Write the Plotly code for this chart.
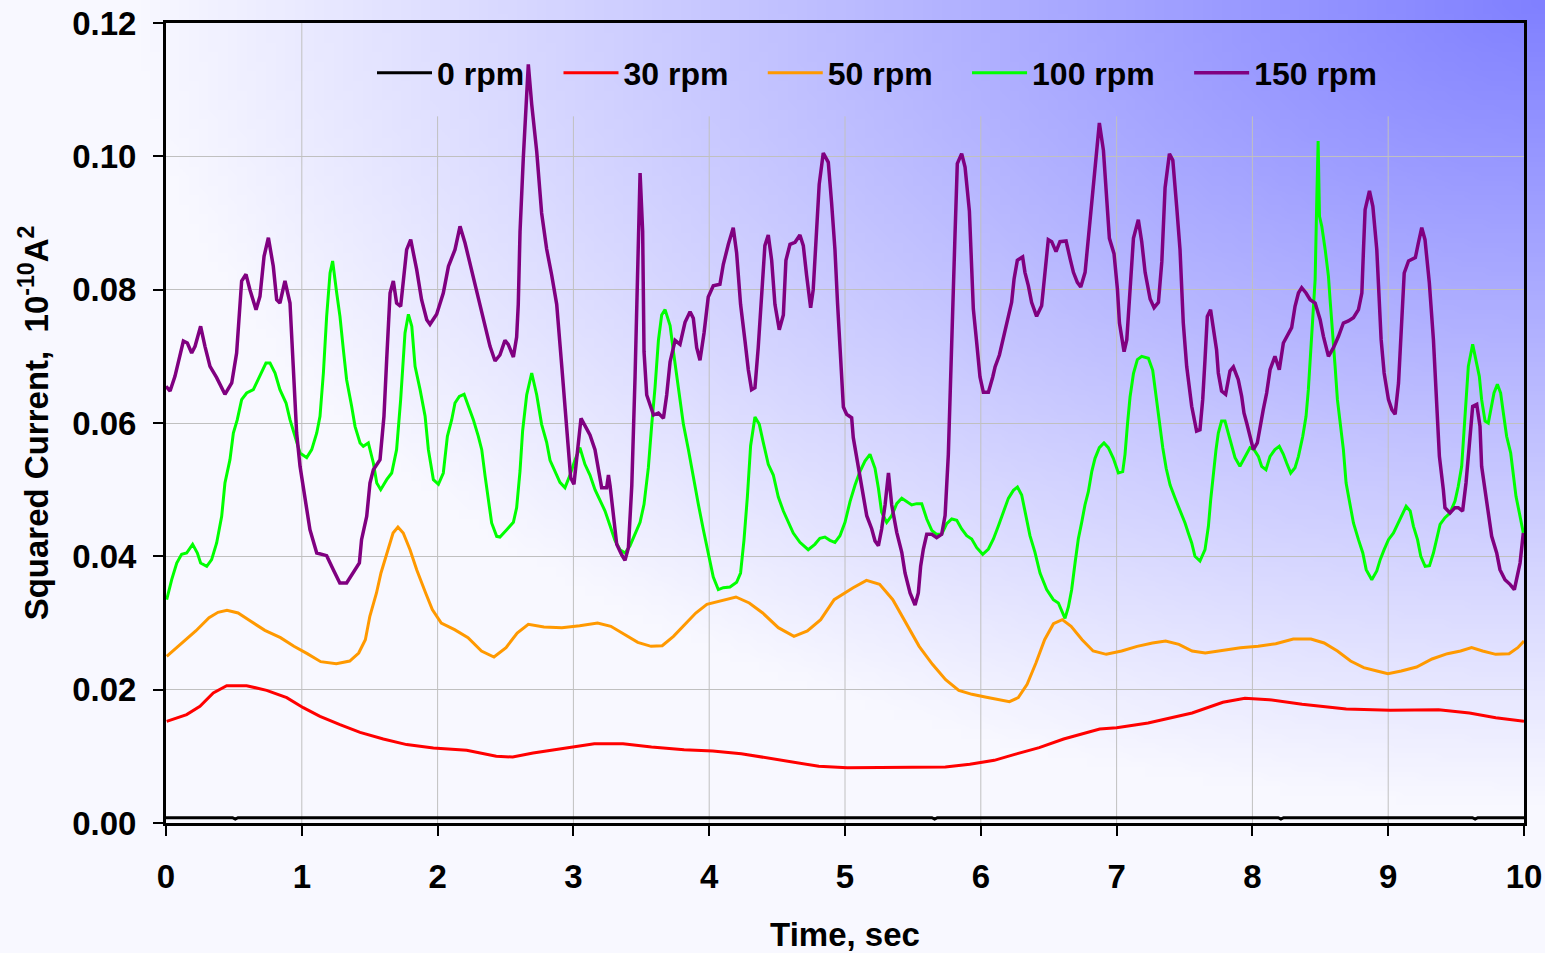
import base64, struct, zlib
import numpy as np
import plotly.graph_objects as go

# ---------------- data ----------------
t_0rpm = [0.0, 0.49, 0.51, 0.53, 5.64, 5.66, 5.68, 8.19, 8.21, 8.23, 9.62, 9.64, 9.66, 10.0]
v_0rpm = [0.0008, 0.0008, 0.0006, 0.0008, 0.0008, 0.0006, 0.0008, 0.0008, 0.0006, 0.0008,
          0.0008, 0.0006, 0.0008, 0.0008]

t_30rpm = [0.005, 0.152, 0.25, 0.348, 0.447, 0.594, 0.741, 0.889, 1.011, 1.134, 1.281, 1.429, 1.6,
           1.772, 1.969, 2.214, 2.432, 2.553, 2.703, 2.853, 3.004, 3.154, 3.365, 3.575, 3.815, 4.026,
           4.236, 4.416, 4.627, 4.807, 5.017, 5.258, 5.499, 5.739, 5.919, 6.099, 6.25, 6.43, 6.61,
           6.791, 6.876, 7.0, 7.232, 7.556, 7.783, 7.945, 8.123, 8.366, 8.691, 9.015, 9.371, 9.598,
           9.792, 10.0]
v_30rpm = [0.01525, 0.01626, 0.0175, 0.0195, 0.0206, 0.0206, 0.0199, 0.0188, 0.0173, 0.016, 0.01476,
           0.0136, 0.0126, 0.01176, 0.01126, 0.0109, 0.0100, 0.0099, 0.0105, 0.011, 0.0115, 0.0119,
           0.0119, 0.0114, 0.011, 0.0108, 0.0104, 0.0098, 0.0091, 0.0085, 0.0083, 0.0083, 0.0084,
           0.0084, 0.0088, 0.0094, 0.0103, 0.0113, 0.0126, 0.0137, 0.0141, 0.0143, 0.015, 0.0165,
           0.0181, 0.0187, 0.0185, 0.0178, 0.0171, 0.0169, 0.017, 0.0165, 0.0158, 0.01525]

t_50rpm = [0.005, 0.12, 0.219, 0.317, 0.383, 0.449, 0.531, 0.613, 0.728, 0.843, 0.942, 1.04, 1.139,
           1.254, 1.353, 1.419, 1.468, 1.501, 1.55, 1.583, 1.633, 1.672, 1.708, 1.747, 1.797, 1.846,
           1.912, 1.961, 2.027, 2.125, 2.224, 2.323, 2.415, 2.504, 2.586, 2.668, 2.783, 2.915, 3.046,
           3.178, 3.276, 3.375, 3.474, 3.572, 3.654, 3.737, 3.819, 3.901, 3.983, 4.082, 4.197, 4.295,
           4.394, 4.509, 4.624, 4.723, 4.821, 4.92, 5.018, 5.06, 5.158, 5.255, 5.352, 5.449, 5.546,
           5.644, 5.741, 5.838, 5.935, 6.032, 6.13, 6.211, 6.276, 6.341, 6.406, 6.47, 6.535, 6.6,
           6.665, 6.746, 6.827, 6.924, 7.037, 7.151, 7.264, 7.361, 7.459, 7.556, 7.653, 7.783, 7.912,
           8.042, 8.172, 8.301, 8.431, 8.528, 8.626, 8.723, 8.82, 8.917, 8.998, 9.096, 9.209, 9.323,
           9.436, 9.533, 9.614, 9.695, 9.792, 9.89, 9.954, 10.0]
v_50rpm = [0.025, 0.027, 0.0288, 0.0308, 0.0316, 0.0319, 0.0315, 0.0304, 0.0289, 0.0278, 0.0265,
           0.0254, 0.0242, 0.0239, 0.0243, 0.0255, 0.0275, 0.031, 0.0345, 0.0375, 0.041, 0.0435,
           0.0444, 0.0435, 0.041, 0.038, 0.0345, 0.032, 0.03, 0.029, 0.0278, 0.0258, 0.0249, 0.0263,
           0.0285, 0.0298, 0.0294, 0.0293, 0.0296, 0.03, 0.0295, 0.0283, 0.0271, 0.0265, 0.0266,
           0.028, 0.0298, 0.0315, 0.0328, 0.0333, 0.0339, 0.033, 0.0315, 0.0293, 0.028, 0.0288,
           0.0305, 0.0335, 0.0348, 0.0353, 0.0364, 0.0358, 0.0335, 0.03, 0.0265, 0.0238, 0.0215,
           0.0199, 0.0193, 0.0189, 0.0185, 0.0182, 0.0188, 0.0208, 0.024, 0.0275, 0.0299, 0.0305,
           0.0295, 0.0275, 0.0258, 0.0253, 0.0258, 0.0265, 0.027, 0.0273, 0.0268, 0.0258, 0.0255,
           0.0259, 0.0263, 0.0265, 0.0269, 0.0276, 0.0276, 0.027, 0.0258, 0.0243, 0.0233, 0.0228,
           0.0224, 0.0228, 0.0234, 0.0246, 0.0254, 0.0258, 0.0263, 0.0258, 0.0253, 0.0254, 0.0263,
           0.0273]

t_100rpm = [0.005, 0.042, 0.079, 0.115, 0.152, 0.196, 0.231, 0.255, 0.3, 0.336, 0.373, 0.41, 0.434,
            0.471, 0.496, 0.525, 0.557, 0.594, 0.643, 0.692, 0.736, 0.766, 0.803, 0.839, 0.884, 0.913,
            0.95, 0.987, 1.036, 1.073, 1.11, 1.134, 1.159, 1.183, 1.208, 1.227, 1.257, 1.281, 1.306,
            1.33, 1.367, 1.392, 1.429, 1.453, 1.49, 1.527, 1.552, 1.581, 1.625, 1.662, 1.698, 1.728,
            1.76, 1.785, 1.81, 1.834, 1.871, 1.908, 1.932, 1.969, 2.006, 2.042, 2.072, 2.104, 2.128,
            2.16, 2.195, 2.227, 2.263, 2.3, 2.325, 2.35, 2.374, 2.398, 2.435,
            2.459, 2.509, 2.558, 2.582, 2.607, 2.626, 2.656, 2.693, 2.73, 2.766, 2.803, 2.828, 2.864,
            2.901, 2.938, 2.975, 3.011, 3.048, 3.085, 3.122, 3.159, 3.196, 3.233, 3.27, 3.306, 3.343,
            3.38, 3.417, 3.454, 3.491, 3.52, 3.552, 3.577, 3.601, 3.626, 3.65, 3.675, 3.712, 3.736,
            3.761, 3.785, 3.81, 3.847, 3.883, 3.92, 3.957, 3.994, 4.03, 4.067, 4.104, 4.153, 4.202,
            4.231, 4.256, 4.281, 4.305, 4.337, 4.369, 4.398, 4.435, 4.472, 4.509, 4.546, 4.582, 4.619,
            4.668, 4.729, 4.778, 4.815, 4.852, 4.889, 4.926,
            4.963, 5.0, 5.037, 5.074, 5.11, 5.147, 5.184, 5.221, 5.246, 5.27, 5.307, 5.344, 5.381,
            5.418, 5.455, 5.491, 5.528, 5.565, 5.602, 5.639, 5.675, 5.712, 5.749, 5.786, 5.823, 5.859,
            5.896, 5.933, 5.97, 6.014, 6.056, 6.093, 6.13, 6.166, 6.203, 6.24, 6.27, 6.301, 6.333,
            6.362, 6.399, 6.436, 6.485, 6.534, 6.571, 6.595, 6.62, 6.645, 6.669, 6.694, 6.718, 6.743,
            6.767, 6.792, 6.817, 6.841, 6.873, 6.907, 6.939, 6.976, 7.013, 7.045, 7.062, 7.08, 7.099,
            7.124, 7.153, 7.185, 7.234, 7.266, 7.291, 7.315, 7.34, 7.365, 7.394, 7.431,
            7.467, 7.504, 7.528, 7.553, 7.577, 7.614, 7.651, 7.676, 7.693, 7.712, 7.732, 7.749, 7.773,
            7.798, 7.822, 7.847, 7.872, 7.908, 7.945, 7.982, 8.012, 8.044, 8.068, 8.1, 8.13, 8.166,
            8.198, 8.228, 8.252, 8.282, 8.314, 8.339, 8.371, 8.395, 8.412, 8.429, 8.449, 8.462, 8.474,
            8.484, 8.494, 8.511, 8.536, 8.56, 8.572, 8.592, 8.609, 8.626, 8.646, 8.67, 8.69, 8.719,
            8.744, 8.781, 8.813, 8.838, 8.879, 8.916, 8.941, 8.97, 9.002, 9.039, 9.076, 9.108, 9.132,
            9.162, 9.186, 9.216, 9.24, 9.272, 9.304, 9.333, 9.362, 9.382, 9.418, 9.455, 9.492, 9.516,
            9.541, 9.558, 9.573, 9.59, 9.622, 9.647, 9.671, 9.688, 9.713, 9.737, 9.762, 9.779, 9.804,
            9.828, 9.848, 9.872, 9.902, 9.921, 9.941, 9.966, 9.995]
v_100rpm = [0.0335, 0.0365, 0.039, 0.0403, 0.0405, 0.0418, 0.0405, 0.039, 0.0385, 0.0395, 0.042,
            0.046, 0.051, 0.0545, 0.0585, 0.0605, 0.0635, 0.0645, 0.065, 0.067, 0.069, 0.069, 0.0675,
            0.065, 0.063, 0.0605, 0.058, 0.0555, 0.0548, 0.056, 0.0585, 0.061, 0.0675, 0.076, 0.0825,
            0.0843, 0.0795, 0.076, 0.071, 0.0665, 0.0625, 0.0595, 0.057, 0.0565, 0.057, 0.054, 0.051,
            0.05, 0.0515, 0.0525, 0.056, 0.0635, 0.0735, 0.0763, 0.0745, 0.0685, 0.065, 0.061, 0.056,
            0.0515, 0.0508, 0.0525, 0.058, 0.0605, 0.063, 0.064, 0.0643, 0.0625, 0.0605, 0.058, 0.056,
            0.052, 0.0485, 0.045, 0.043,
            0.0429, 0.044, 0.0451, 0.0473, 0.0528, 0.0588, 0.0642, 0.0675, 0.0642, 0.0598, 0.0571,
            0.0544, 0.0528, 0.0511, 0.0503, 0.0522, 0.0544, 0.0563, 0.0538, 0.0522, 0.05, 0.0484,
            0.0468, 0.0446, 0.0424, 0.041, 0.0405, 0.0416, 0.0435, 0.0451, 0.0478, 0.0533, 0.0598,
            0.0653, 0.0724, 0.0762, 0.077, 0.0746, 0.0708, 0.0669, 0.0637, 0.0598, 0.056, 0.0517,
            0.0478, 0.044, 0.0402, 0.0369, 0.035, 0.0353, 0.0354, 0.0361, 0.0375, 0.0424, 0.0489,
            0.0566, 0.0609, 0.0598, 0.0571, 0.0538, 0.0522, 0.0489, 0.0468, 0.0451, 0.0435, 0.0421,
            0.041, 0.0418, 0.0427, 0.0429, 0.0424, 0.0421,
            0.0431, 0.0451, 0.0482, 0.0507, 0.0527, 0.0543, 0.0553, 0.0532, 0.0502, 0.0466, 0.0451,
            0.0461, 0.0479, 0.0487, 0.0482, 0.0477, 0.0479, 0.0479, 0.0456, 0.0439, 0.0433, 0.0433,
            0.0449, 0.0456, 0.0454, 0.0441, 0.0431, 0.0426, 0.0413, 0.0403, 0.0411, 0.0426, 0.0446,
            0.0466, 0.0487, 0.0499, 0.0504, 0.0492, 0.0461, 0.0431, 0.0406, 0.0375, 0.035, 0.0335,
            0.033, 0.0319, 0.0307, 0.0324, 0.035, 0.039, 0.0426, 0.0451, 0.0477, 0.0497, 0.0527,
            0.0547, 0.0563, 0.057, 0.0563, 0.0547, 0.0525, 0.0527, 0.0553, 0.0598, 0.0639, 0.0674,
            0.0695, 0.07, 0.0697, 0.0679, 0.0639, 0.0598, 0.0563, 0.0532, 0.0507, 0.0487,
            0.047, 0.045, 0.0435, 0.042, 0.04, 0.0393, 0.041, 0.0445, 0.0485, 0.0525, 0.056, 0.0585,
            0.0603, 0.0603, 0.0585, 0.0565, 0.0548, 0.0535, 0.055, 0.0563, 0.056, 0.055, 0.0535, 0.053,
            0.055, 0.056, 0.0565, 0.0553, 0.054, 0.0525, 0.0533, 0.055, 0.058, 0.061, 0.065, 0.0705,
            0.0775, 0.0815, 0.0935, 0.1023, 0.091, 0.0895, 0.086, 0.082, 0.0785, 0.0735, 0.0685,
            0.0635, 0.06, 0.056, 0.051, 0.0475, 0.045, 0.0425, 0.0405, 0.038, 0.0365, 0.0378, 0.0395,
            0.041, 0.0425, 0.0435, 0.045, 0.0465, 0.0475, 0.0468, 0.0445, 0.0425, 0.04, 0.0385,
            0.0386, 0.0405, 0.043, 0.0448, 0.0458, 0.0465, 0.0483, 0.0505, 0.0535, 0.0585, 0.0635,
            0.0685, 0.0718, 0.0695, 0.067, 0.0635, 0.0603, 0.06, 0.0625, 0.0645, 0.0658, 0.0645,
            0.0615, 0.058, 0.0555, 0.0525, 0.049, 0.0465, 0.0435]

t_150rpm = [0.0, 0.03, 0.066, 0.09, 0.128, 0.157, 0.189, 0.214, 0.255, 0.287, 0.324, 0.373, 0.434,
            0.484, 0.52, 0.557, 0.589, 0.618, 0.663, 0.692, 0.722, 0.754, 0.79, 0.815, 0.839, 0.876,
            0.913, 0.937, 0.962, 0.987, 1.023, 1.06, 1.11, 1.183, 1.232, 1.28, 1.33, 1.38, 1.424,
            1.44, 1.478, 1.502, 1.527, 1.576, 1.605, 1.625, 1.65, 1.674, 1.698, 1.728, 1.772, 1.802,
            1.846, 1.882, 1.92, 1.944, 1.993, 2.042, 2.08, 2.128, 2.165, 2.202, 2.25, 2.3, 2.35,
            2.386, 2.423,
            2.459, 2.496, 2.52, 2.558, 2.582, 2.594, 2.607, 2.631, 2.651, 2.668, 2.693, 2.73, 2.766,
            2.803, 2.84, 2.877, 2.914, 2.95, 2.98, 3.004, 3.03, 3.056, 3.093, 3.122, 3.159, 3.196,
            3.208, 3.245, 3.258, 3.27, 3.295, 3.319, 3.356, 3.38, 3.405, 3.43, 3.454, 3.471, 3.491,
            3.51, 3.52, 3.54, 3.577, 3.59, 3.626, 3.663, 3.687, 3.712, 3.749, 3.785, 3.822, 3.859,
            3.883, 3.908, 3.932, 3.962, 3.993, 4.03, 4.079, 4.104, 4.141, 4.177, 4.202, 4.231, 4.263,
            4.288, 4.312, 4.337, 4.361, 4.386, 4.41, 4.435, 4.46, 4.484, 4.516, 4.546, 4.565, 4.595,
            4.632, 4.668, 4.693, 4.717, 4.747, 4.766, 4.791, 4.81, 4.84, 4.877, 4.901, 4.926, 4.945,
            4.963, 4.988, 5.012, 5.049, 5.061, 5.086, 5.123, 5.16, 5.197, 5.221, 5.246, 5.27, 5.295,
            5.32, 5.344, 5.381, 5.418, 5.442, 5.479, 5.516, 5.54, 5.557, 5.577, 5.602, 5.639, 5.675,
            5.712, 5.737, 5.761, 5.778, 5.798, 5.81, 5.827, 5.859, 5.884, 5.916, 5.933, 5.945, 5.97,
            5.994, 6.019, 6.056, 6.088, 6.105, 6.137, 6.171, 6.203, 6.227, 6.245, 6.269, 6.308, 6.325,
            6.35, 6.374, 6.411, 6.448, 6.473, 6.497, 6.522, 6.554, 6.583, 6.628, 6.657, 6.682, 6.711,
            6.736, 6.768, 6.793, 6.824, 6.849, 6.873, 6.903, 6.927, 6.947, 6.981, 7.006, 7.021, 7.055,
            7.075, 7.104, 7.124, 7.16, 7.185, 7.21, 7.247, 7.276, 7.308, 7.333, 7.357, 7.389, 7.414,
            7.443,
            7.467, 7.491, 7.516, 7.553, 7.589, 7.614, 7.634, 7.651, 7.668, 7.692, 7.717, 7.736, 7.749,
            7.773, 7.803, 7.835, 7.86, 7.896, 7.921, 7.938, 7.958, 7.982, 8.007, 8.036, 8.056, 8.08,
            8.105, 8.13, 8.166, 8.198, 8.228, 8.265, 8.289, 8.314, 8.339, 8.363, 8.395, 8.425, 8.462,
            8.499, 8.523, 8.56, 8.597, 8.634, 8.67, 8.707, 8.744, 8.781, 8.806, 8.818, 8.83, 8.862,
            8.887, 8.916, 8.936, 8.948, 8.97, 9.002, 9.027, 9.051, 9.076, 9.093, 9.118, 9.15, 9.2,
            9.222, 9.247, 9.271, 9.303, 9.333, 9.357, 9.377, 9.406, 9.418, 9.455, 9.492, 9.516, 9.548,
            9.573, 9.598, 9.622, 9.652, 9.676, 9.688, 9.713, 9.737, 9.762, 9.799, 9.823, 9.86, 9.897,
            9.929, 9.946, 9.971, 9.995]
v_150rpm = [0.0655, 0.0648, 0.067, 0.069, 0.0723, 0.072, 0.0705, 0.0715, 0.0745, 0.0715, 0.0685,
            0.0668, 0.0643, 0.066, 0.0705, 0.0813, 0.0823, 0.080, 0.077, 0.079, 0.085, 0.0878, 0.0835,
            0.0785, 0.078, 0.0813, 0.078, 0.0685, 0.0585, 0.0535, 0.0485, 0.044, 0.0405, 0.0401,
            0.038, 0.036, 0.036, 0.0375, 0.039, 0.0425, 0.046, 0.051, 0.053, 0.0545, 0.061, 0.0695,
            0.0795, 0.0813, 0.078, 0.0775, 0.086, 0.0875, 0.083, 0.0785, 0.0755, 0.0748, 0.0763,
            0.0795, 0.0835, 0.086, 0.0895, 0.087, 0.083, 0.079, 0.075, 0.0715, 0.0693,
            0.0702, 0.0724, 0.0718, 0.0699, 0.0729, 0.0778, 0.0887, 0.0997, 0.1078, 0.1138, 0.1078,
            0.1007, 0.0915, 0.0861, 0.0822, 0.0778, 0.0686, 0.0588, 0.0518, 0.0508, 0.056, 0.0607,
            0.0593, 0.0582, 0.056, 0.0522, 0.0503, 0.0503, 0.0522, 0.0506, 0.0457, 0.0418, 0.0402,
            0.0394, 0.0413, 0.0506, 0.0669, 0.0833, 0.0975, 0.0887, 0.0707, 0.0642, 0.062, 0.0612,
            0.0615, 0.0607, 0.0642, 0.0692, 0.0724, 0.0718, 0.0751, 0.0767, 0.0757, 0.0713, 0.0694,
            0.0735, 0.0789, 0.0806, 0.0808, 0.0838, 0.0868, 0.0893, 0.0855, 0.0778, 0.0724, 0.068,
            0.065, 0.0653, 0.0713, 0.0789, 0.0866, 0.0882, 0.0844, 0.0778, 0.074, 0.0762, 0.0844,
            0.0868, 0.0871, 0.0882, 0.0866, 0.0822, 0.0773, 0.08, 0.0887, 0.0958, 0.1005, 0.0991,
            0.0931, 0.086, 0.078,
            0.0715, 0.0624, 0.0613, 0.0608, 0.0578, 0.0547, 0.0502, 0.0461, 0.0441, 0.0423, 0.0416,
            0.0441, 0.0477, 0.0525, 0.0477, 0.0436, 0.0406, 0.0375, 0.0345, 0.0327, 0.0345, 0.0385,
            0.0411, 0.0433, 0.0433, 0.0428, 0.0433, 0.0461, 0.0553, 0.0679, 0.0781, 0.0882, 0.0989,
            0.1004, 0.0984, 0.0918, 0.0832, 0.0771, 0.072, 0.0669, 0.0646, 0.0646, 0.0669, 0.0684,
            0.0702, 0.0735, 0.076, 0.0781, 0.0816, 0.0844, 0.0849, 0.0826, 0.0806, 0.0781, 0.076,
            0.0776, 0.0821, 0.0875, 0.0872, 0.0857, 0.0872, 0.0873, 0.0847, 0.0826, 0.0811, 0.0804,
            0.0826, 0.0882, 0.0943, 0.1009, 0.105, 0.1009, 0.0943, 0.0877, 0.0854, 0.0801, 0.075,
            0.0707, 0.0725, 0.0806, 0.0877, 0.0905, 0.0872, 0.0826, 0.0786, 0.0773, 0.0781, 0.0842,
            0.0953, 0.1004, 0.0994, 0.0923,
            0.086, 0.075, 0.0685, 0.0625, 0.0588, 0.059, 0.0635, 0.0695, 0.076, 0.077, 0.0735, 0.071,
            0.0675, 0.0648, 0.0643, 0.0678, 0.0684, 0.0665, 0.064, 0.0615, 0.06, 0.058, 0.056, 0.057,
            0.0595, 0.062, 0.0645, 0.068, 0.07, 0.068, 0.072, 0.0735, 0.0743, 0.0775, 0.0795, 0.0803,
            0.0795, 0.0785, 0.078, 0.0755, 0.073, 0.07, 0.0713, 0.073, 0.075, 0.0753, 0.0758, 0.077,
            0.0795, 0.086, 0.092, 0.0948, 0.0925, 0.086, 0.0785, 0.0725, 0.0675, 0.0635, 0.062,
            0.0613, 0.066, 0.0735, 0.0825, 0.0843, 0.0848, 0.087, 0.0893, 0.0875, 0.081, 0.0725,
            0.0635, 0.055, 0.05, 0.0473, 0.0465, 0.0473, 0.0473, 0.0468, 0.051, 0.057, 0.0625, 0.0628,
            0.0595, 0.0535, 0.05, 0.046, 0.043, 0.0405, 0.038, 0.0365, 0.0358, 0.035, 0.0365, 0.039,
            0.0435]

series_names = ["0 rpm", "30 rpm", "50 rpm", "100 rpm", "150 rpm"]
series_t = [t_0rpm, t_30rpm, t_50rpm, t_100rpm, t_150rpm]
series_v = [v_0rpm, v_30rpm, v_50rpm, v_100rpm, v_150rpm]
series_colors = ["#000000", "#ff0000", "#ff9900", "#00ff00", "#800080"]
series_widths = [3, 3, 3, 3, 3.5]

x_ticks = list(range(0, 11))
y_ticks = [0.00, 0.02, 0.04, 0.06, 0.08, 0.10, 0.12]

# ---------------- background gradient image ----------------
W, H = 1545, 953
gw, gh = 160, 100
xs = (np.arange(gw) + 0.5) / gw * W
ys = (np.arange(gh) + 0.5) / gh * H
X, Y = np.meshgrid(xs, ys)
d = np.sqrt(((W - X) / 1400.0) ** 2 + (Y / 800.0) ** 2)
a = np.clip(1.0 - d, 0, 1)
base = np.array([248, 248, 255], float)
blue = np.array([128, 128, 255], float)
img = (base[None, None, :] * (1 - a[..., None]) + blue[None, None, :] * a[..., None]).astype(np.uint8)


def png_bytes(arr):
    h, w, _ = arr.shape
    raw = b"".join(b"\x00" + arr[i].tobytes() for i in range(h))
    def chunk(tag, data):
        c = struct.pack(">I", len(data)) + tag + data
        return c + struct.pack(">I", zlib.crc32(tag + data) & 0xffffffff)
    return (b"\x89PNG\r\n\x1a\n" + chunk(b"IHDR", struct.pack(">IIBBBBB", w, h, 8, 2, 0, 0, 0))
            + chunk(b"IDAT", zlib.compress(raw, 9)) + chunk(b"IEND", b""))


bg_uri = "data:image/png;base64," + base64.b64encode(png_bytes(img)).decode()

# ---------------- figure ----------------
ML, MR, MT, MB = 166, 21, 23, 130
PW, PH = W - ML - MR, H - MT - MB

FONT = "Liberation Sans, Arial, sans-serif"
PAD = "\u00a0" * 3 + "\u200a"   # extra spacing between legend entries

fig = go.Figure()
for name, tt, vv, col, lw in zip(series_names, series_t, series_v, series_colors, series_widths):
    fig.add_trace(go.Scatter(x=tt, y=vv, mode="lines", name=name + PAD,
                             line=dict(color=col, width=lw)))

# vertical grid lines (hidden behind the legend box near the top, as in the reference)
legend_bottom = 0.106
for xv in x_ticks[1:-1]:
    top = 0.12 if xv == 1 else legend_bottom
    fig.add_shape(type="line", xref="x", yref="y", x0=xv, x1=xv, y0=0, y1=top,
                  line=dict(color="#c0c0c0", width=1), layer="below")

fig.add_layout_image(dict(source=bg_uri, xref="paper", yref="paper",
                          x=-ML / PW, y=1 + MT / PH, sizex=W / PW, sizey=H / PH,
                          sizing="stretch", xanchor="left", yanchor="top", layer="below"))

fig.update_layout(
    width=W, height=H,
    margin=dict(l=ML, r=MR, t=MT, b=MB, autoexpand=False),
    paper_bgcolor="white",
    plot_bgcolor="rgba(0,0,0,0)",
    font=dict(family=FONT, color="black", size=30),
    showlegend=True,
    legend=dict(orientation="h", x=(372 - ML) / PW, y=(823 - 73) / PH,
                xanchor="left", yanchor="middle",
                bgcolor="rgba(0,0,0,0)", borderwidth=0,
                font=dict(family=FONT, size=32, color="black", weight="bold"),
                itemwidth=55, tracegroupgap=0),
    xaxis=dict(range=[0, 10], tickvals=x_ticks, ticktext=[str(v) for v in x_ticks],
               showgrid=False, zeroline=False, automargin=False,
               showline=True, linecolor="black", linewidth=3, mirror=True,
               ticks="outside", ticklen=10, tickwidth=2, tickcolor="black",
               ticklabelstandoff=12,
               tickfont=dict(family=FONT, size=33, color="black", weight="bold"),
               title=dict(text="Time, sec", standoff=30,
                          font=dict(family=FONT, size=33, color="black", weight="bold"))),
    yaxis=dict(range=[0, 0.12], tickvals=y_ticks, ticktext=["%.2f" % v for v in y_ticks],
               showgrid=True, gridcolor="#c0c0c0", gridwidth=1, zeroline=False, automargin=False,
               showline=True, linecolor="black", linewidth=3, mirror=True,
               ticks="outside", ticklen=10, tickwidth=2, tickcolor="black",
               ticklabelstandoff=10,
               tickfont=dict(family=FONT, size=33, color="black", weight="bold"),
               title=dict(text="Squared Current,\u00a0\u00a010<sup>-10</sup>A<sup>2</sup>", standoff=14,
                          font=dict(family=FONT, size=33, color="black", weight="bold"))),
)

fig.write_html("out.html")
